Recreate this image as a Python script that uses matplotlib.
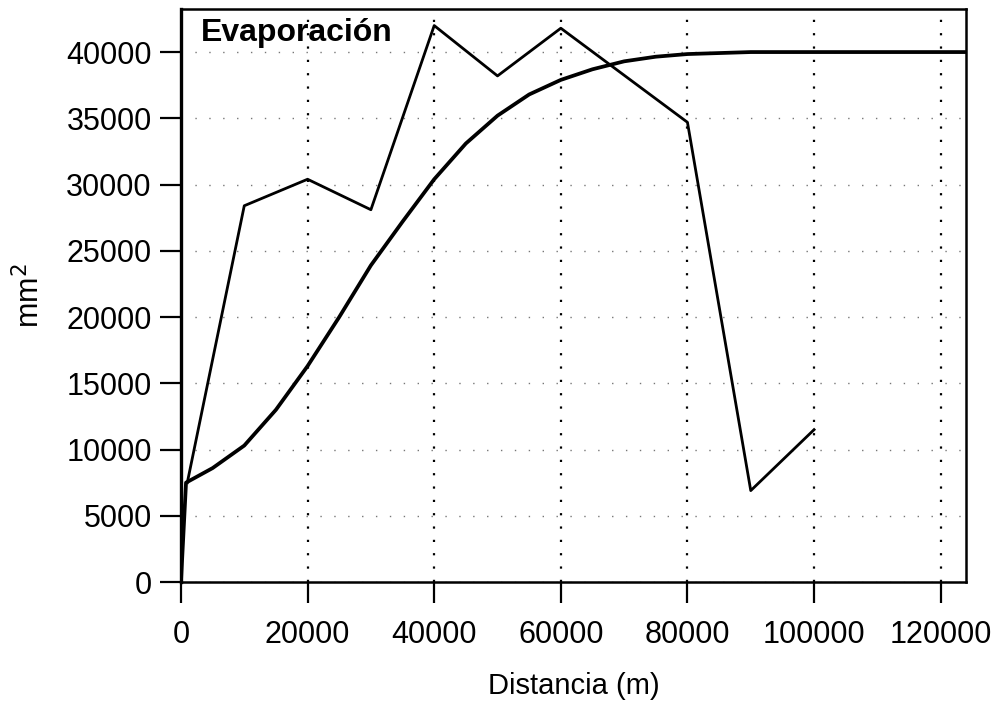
import matplotlib
matplotlib.use('Agg')
import matplotlib.pyplot as plt

plt.rcParams['font.family'] = ['Liberation Sans', 'DejaVu Sans']

# variograma experimental
dist_exp = [1000, 10000, 20000, 30000, 40000, 50000, 60000, 80000, 90000, 100000]
gamma_exp = [7500, 28400, 30400, 28100, 42000, 38200, 41800, 34700, 6900, 11500]

# modelo ajustado
dist_mod = [0, 800, 5000, 10000, 15000, 20000, 25000, 30000, 35000, 40000, 45000,
            50000, 55000, 60000, 65000, 70000, 75000, 80000, 90000, 124000]
gamma_mod = [0, 7500, 8600, 10300, 13000, 16300, 20000, 23900, 27200, 30400, 33100,
             35200, 36800, 37900, 38700, 39300, 39650, 39850, 40000, 40000]

xticks = [0, 20000, 40000, 60000, 80000, 100000, 120000]
yticks = [0, 5000, 10000, 15000, 20000, 25000, 30000, 35000, 40000]

fig = plt.figure(figsize=(10.07, 7.09), dpi=100)
ax = fig.add_axes([0.1797, 0.1791, 0.7796, 0.8082])

ax.plot(dist_exp, gamma_exp, '-', color='black', lw=2.0, zorder=3)
ax.plot(dist_mod, gamma_mod, '-', color='black', lw=2.7, zorder=3)

ax.set_xlim(0, 124000)
ax.set_ylim(0, 43250)
ax.set_xticks(xticks)
ax.set_yticks(yticks)
ax.tick_params(axis='both', labelsize=22, width=1.6, direction='out')
ax.tick_params(axis='y', length=15, pad=6)
ax.tick_params(axis='x', length=15, pad=12)

# rejilla
ax.xaxis.grid(True, color='black', linestyle=(0, (1, 5)), linewidth=1.6)
ax.yaxis.grid(True, color='#777777', linestyle=(0, (1, 9)), linewidth=1.0)
ax.set_axisbelow(True)
for s in ax.spines.values():
    s.set_linewidth(1.8)
ax.spines['left'].set_linewidth(2.4)

ax.text(0.025, 0.958, 'Evaporación', transform=ax.transAxes, fontsize=23,
        fontweight='bold', va='center', ha='left')

ax.set_xlabel('Distancia (m)', fontsize=21, labelpad=16)
ax.set_ylabel('mm$^2$', fontsize=22, labelpad=14)

plt.savefig('out.png', dpi=100)
